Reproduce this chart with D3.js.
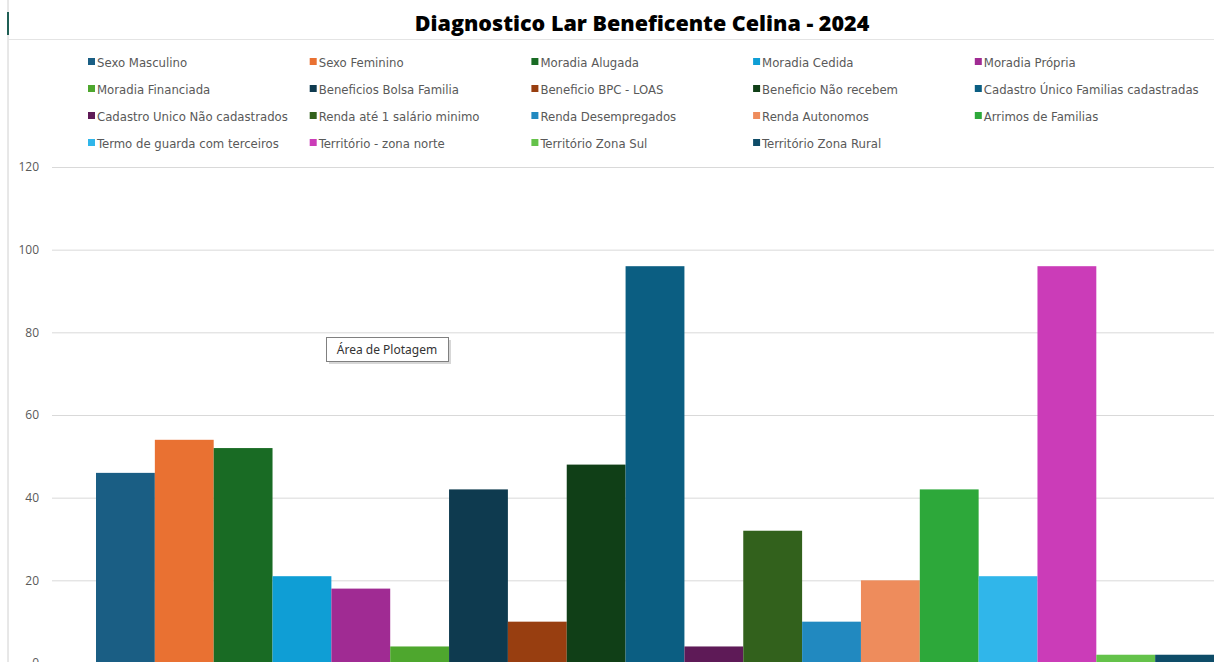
<!DOCTYPE html>
<html>
<head>
<meta charset="utf-8">
<script src="https://cdn.jsdelivr.net/npm/d3@7"></script>
<style>
  body { margin: 0; background: #fff; overflow: hidden; }
  svg { display: block; }
</style>
</head>
<body>
<div id="chart"></div>
<script>
'use strict';

var series = [
    'Sexo Masculino', 'Sexo Feminino', 'Moradia Alugada', 'Moradia Cedida', 'Moradia Própria',
    'Moradia Financiada', 'Beneficios Bolsa Familia', 'Beneficio BPC - LOAS', 'Beneficio Não recebem',
    'Cadastro Único Familias cadastradas', 'Cadastro Unico Não cadastrados', 'Renda até 1 salário minimo',
    'Renda Desempregados', 'Renda Autonomos', 'Arrimos de Familias', 'Termo de guarda com terceiros',
    'Território - zona norte', 'Território Zona Sul', 'Território Zona Rural'
];

var values = [46, 54, 52, 21, 18, 4, 42, 10, 48, 96, 4, 32, 10, 20, 42, 21, 96, 2, 2];

var colors = [
    '#1a5e84', '#e97132', '#196b24', '#0f9ed5', '#a02b93',
    '#4ea72e', '#0e3a4f', '#983e10', '#103f17', '#0b5e82',
    '#5e1a57', '#32611c', '#2189c0', '#ee8c5c', '#2da83a',
    '#30b6ea', '#cb3cb8', '#64c24a', '#0e4c68'
];

var yTicks = [0, 20, 40, 60, 80, 100, 120];

var title = 'Diagnostico Lar Beneficente Celina - 2024';

var width = 1214,
    height = 662;

var svg = d3.select('#chart').append('svg')
    .attr('width', width)
    .attr('height', height);

// frame bits of the cropped excel chart
svg.append('line')
    .attr('x1', 8).attr('x2', 8).attr('y1', 0).attr('y2', height)
    .attr('stroke', '#d0d0d0').attr('stroke-width', 1);
svg.append('line')
    .attr('x1', 8).attr('x2', 8).attr('y1', 12).attr('y2', 35)
    .attr('stroke', '#1f5f55').attr('stroke-width', 2);
svg.append('line')
    .attr('x1', 8).attr('x2', width).attr('y1', 39.5).attr('y2', 39.5)
    .attr('stroke', '#e4e4e4').attr('stroke-width', 1);

svg.append('text')
    .attr('x', 642)
    .attr('y', 31)
    .attr('text-anchor', 'middle')
    .style('font-family', '"Open Sans", Lato, sans-serif')
    .style('font-weight', 800)
    .style('font-size', '21.5px')
    .attr('fill', '#000')
    .text(title);

// legend
var legend = svg.append('g').attr('class', 'legend');
var item = legend.selectAll('g')
    .data(series)
    .enter()
    .append('g')
    .attr('transform', function(d, i) {
        var col = i % 5, row = Math.floor(i / 5);
        return 'translate(' + (88 + col * 221.7) + ',' + (62 + row * 27) + ')';
    });
item.append('rect')
    .attr('x', 0).attr('y', -4)
    .attr('width', 7).attr('height', 7)
    .attr('fill', function(d, i) { return colors[i]; });
item.append('text')
    .attr('x', 9).attr('y', 4.5)
    .style('font-family', '"Liberation Sans Narrow", "DejaVu Sans Condensed", sans-serif')
    .style('font-size', '13px')
    .attr('fill', '#595959')
    .text(function(d) { return d; });

// scales
var y = d3.scaleLinear().domain([0, 120]).range([663, 167]);
var x = d3.scaleBand().domain(series).range([96, 1214]).padding(0);

// grid
var grid = svg.append('g')
    .attr('transform', 'translate(52,0)')
    .call(d3.axisLeft(y).tickValues(yTicks).tickSize(-(width - 52)).tickFormat(''));
grid.select('.domain').remove();
grid.selectAll('line').attr('stroke', '#d9d9d9');

var yAxis = svg.append('g')
    .attr('transform', 'translate(39,0)')
    .call(d3.axisLeft(y).tickValues(yTicks).tickSize(0).tickPadding(0));
yAxis.select('.domain').remove();
yAxis.selectAll('text')
    .style('font-family', '"Open Sans", sans-serif')
    .style('font-size', '12px')
    .attr('fill', '#595959');

// bars
svg.append('g').selectAll('rect')
    .data(values)
    .enter()
    .append('rect')
    .attr('x', function(d, i) { return x(series[i]); })
    .attr('width', x.bandwidth())
    .attr('y', function(d) { return y(d); })
    .attr('height', function(d) { return y(0) - y(d); })
    .attr('fill', function(d, i) { return colors[i]; });

// excel hover tip
var tip = svg.append('g').attr('transform', 'translate(326,337)');
tip.append('rect')
    .attr('x', 3).attr('y', 3).attr('width', 122).attr('height', 24)
    .attr('fill', '#bdbdbd').attr('opacity', 0.6);
tip.append('rect')
    .attr('x', 0.5).attr('y', 0.5).attr('width', 122).attr('height', 24)
    .attr('fill', '#fff').attr('stroke', '#808080');
tip.append('text')
    .attr('x', 61).attr('y', 17)
    .attr('text-anchor', 'middle')
    .style('font-family', '"Noto Sans", sans-serif')
    .style('font-size', '12px')
    .attr('fill', '#333')
    .text('Área de Plotagem');
</script>
</body>
</html>
